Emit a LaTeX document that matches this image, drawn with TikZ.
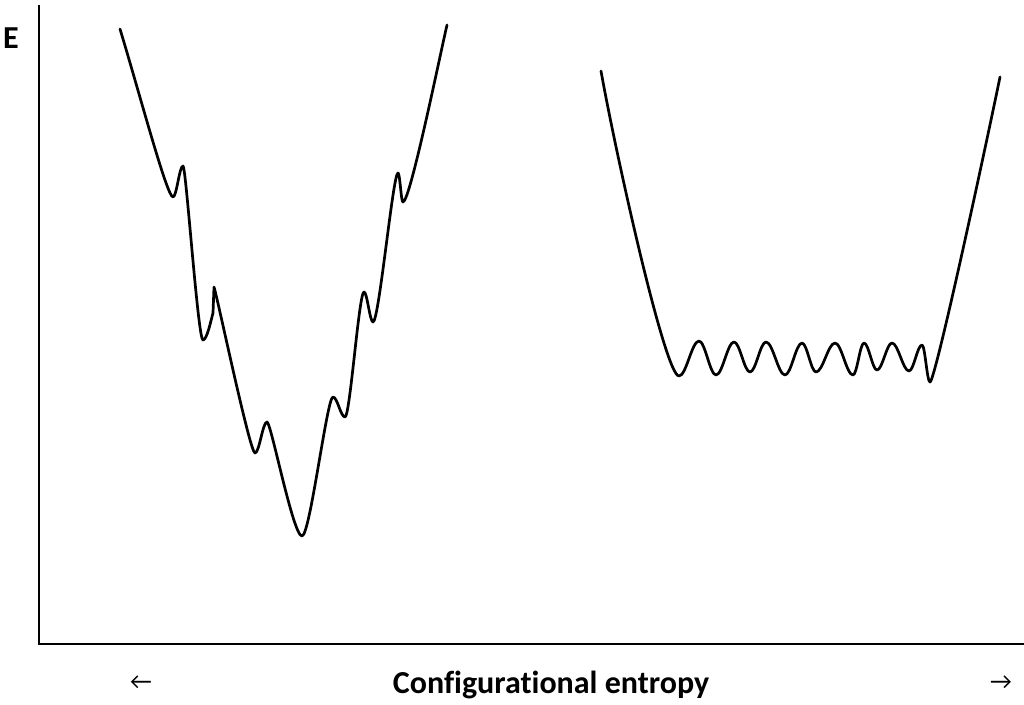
\documentclass[tikz,border=0pt]{standalone}
\usepackage{fontspec}
\setmainfont{Carlito}[Ligatures=NoCommon]
\begin{document}
\begin{tikzpicture}[x=1pt,y=-1pt,
  curve/.style={line width=2.7pt,line join=round,line cap=round},
  axis/.style={line width=2pt},
  lbl/.style={font=\bfseries\fontsize{32}{36}\selectfont,inner sep=0pt},
  arr/.style={font=\fontsize{24}{28}\selectfont,inner sep=0pt}]
\useasboundingbox (0,0) rectangle (1024,704);
% axes
\coordinate (o) at (39,644);
\coordinate (ytop) at (39,5);
\coordinate (xend) at (1024,644);
\draw[axis] (ytop) -- (o) -- (xend);
\node[lbl] (E) at (11,38) {E};
\node[lbl,anchor=base] (xl) at (551,693) {Configurational entropy};
\node[arr] (la) at (141,683) {←};
\node[arr] (ra) at (1001,683) {→};
% left landscape
\draw[curve] (120,29) .. controls (140,95) and (167,197) .. (173,197)
  .. controls +(3.6,0) and +(-3.6,0) .. (183,166)
  .. controls +(3,0) and +(-5,0) .. (203,340)
  .. controls +(4,0) and (211,320) .. (213,313)
  -- (214,287)
  .. controls (218,300) and (250,453) .. (255,453)
  .. controls +(4.3,0) and +(-4.3,0) .. (267,422)
  .. controls +(4,0) and +(-9,0) .. (302,536)
  .. controls +(8,0) and +(-6,0) .. (333,397)
  .. controls +(4.3,0) and +(-4.3,0) .. (345,417)
  .. controls +(5,0) and +(-5,0) .. (364,292)
  .. controls +(3.2,0) and +(-3.2,0) .. (373,322)
  .. controls +(6,0) and +(-5,0) .. (398,173)
  .. controls +(2,0) and +(-2,0) .. (403,202)
  .. controls (410,202) and (440,55) .. (447,25);
% right landscape
\draw[curve] (601,71) .. controls (615,150) and (665,376) .. (679,376)
  .. controls +(7.2,0) and +(-7.2,0) .. (699,341)
  .. controls +(6.1,0) and +(-6.1,0) .. (716,375)
  .. controls +(6.5,0) and +(-6.5,0) .. (734,342)
  .. controls +(5.8,0) and +(-5.8,0) .. (750,372)
  .. controls +(5.8,0) and +(-5.8,0) .. (766,342)
  .. controls +(6.8,0) and +(-6.8,0) .. (785,375)
  .. controls +(6.1,0) and +(-6.1,0) .. (802,343)
  .. controls +(5,0) and +(-5,0) .. (816,372)
  .. controls +(6.8,0) and +(-6.8,0) .. (835,343)
  .. controls +(6.5,0) and +(-6.5,0) .. (853,375)
  .. controls +(4,0) and +(-4,0) .. (864,343)
  .. controls +(4.7,0) and +(-4.7,0) .. (877,370)
  .. controls +(5.4,0) and +(-5.4,0) .. (892,343)
  .. controls +(6.1,0) and +(-6.1,0) .. (909,371)
  .. controls +(4.7,0) and +(-4.7,0) .. (922,345)
  .. controls +(3,0) and +(-3,0) .. (930,382)
  .. controls (935,382) and (985,150) .. (1000,77);
\end{tikzpicture}
\end{document}
